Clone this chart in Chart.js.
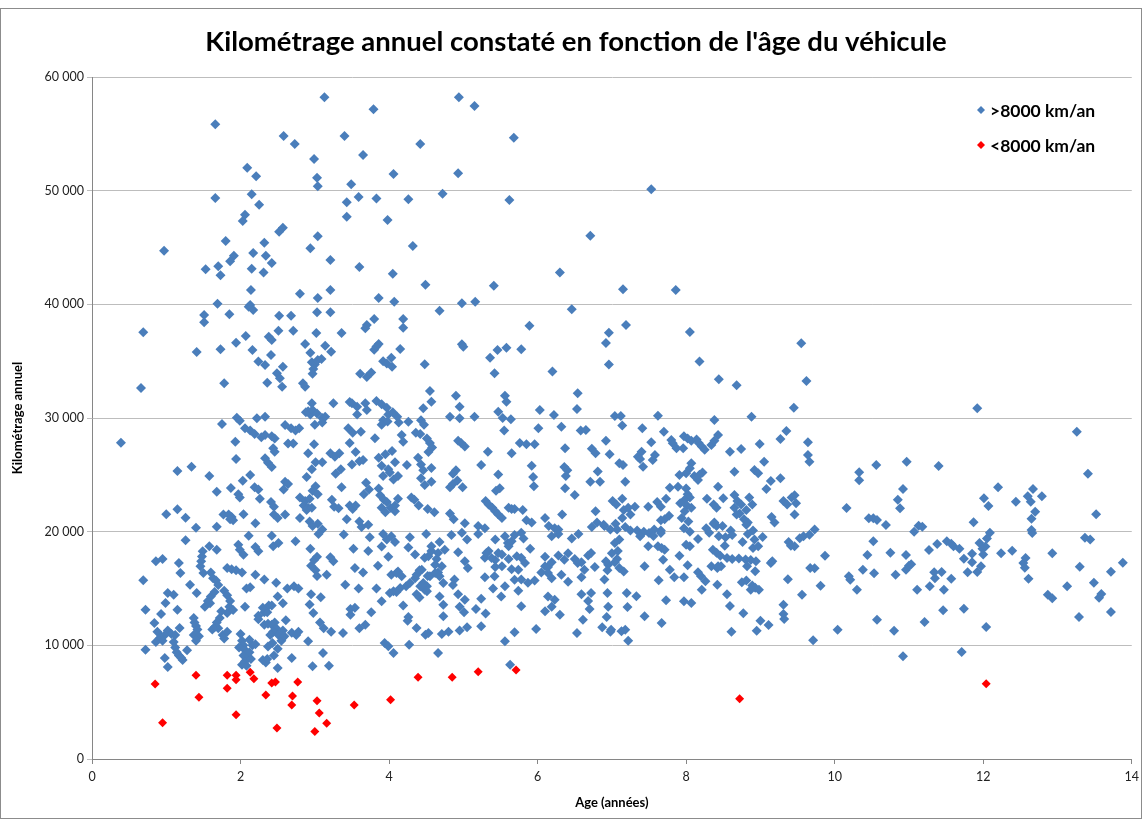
<!DOCTYPE html>
<html>
<head>
<meta charset="utf-8">
<script src="https://cdn.jsdelivr.net/npm/chart.js@4"></script>
<style>
  body { margin: 0; background: #fff; }
  canvas { display: block; }
</style>
</head>
<body>
<canvas id="km__chart" width="1144" height="821"></canvas>
<script>
const chartTitle = "Kilométrage annuel constaté en fonction de l'âge du véhicule"
const seriesNames = ['>8000 km/an', '<8000 km/an']
const xTitle = 'Age (années)'
const yTitle = 'Kilométrage annuel'

// [age, km], grouped by zone
const blueTop = [
  [1.66,55840],[2.58,54810],[2.73,54100],[2.99,52790],[2.09,52020],[2.21,51260],[3.03,51140],[3.04,50390],
  [1.66,49360],[2.15,49680],[2.25,48770],[3.43,48980],[3.43,47710],[2.06,47890],[2.03,47330],[2.57,46740],
  [2.52,46390],[1.80,45570],[2.32,45420],[3.04,45990],[2.17,44520],[2.34,44280],[2.94,44930],[1.91,44280],
  [1.86,43790],[2.42,43640],[3.21,43900],[1.53,43080],[1.70,43350],[1.73,42560],[2.15,43140],[2.31,42790],
  [2.14,41260],[2.80,40940],[3.04,40560],[3.21,41260],[1.69,40060],[3.13,58220],[3.40,54810],[3.49,50560],
  [0.97,44720],[4.94,58220],[5.15,57450],[3.79,57160],[5.68,54660],[4.42,54100],[3.65,53140],[4.06,51470],
  [4.93,51530],[3.59,49440],[3.83,49300],[4.26,49240],[4.72,49730],[5.62,49180],[3.98,47420],[6.71,46040],
  [4.32,45130],[3.60,43290],[4.05,42700],[6.30,42790],[4.49,41730],[5.41,41640],[3.86,40560],[4.07,40230],
  [4.98,40090],[5.16,40230],[7.53,50120],[7.15,41320],[7.86,41260]
]

const blueA = [
  [0.39,27830],[0.66,32640],[0.69,37540],[0.69,15720],[0.86,17390],[0.95,17600],[0.72,13140],[0.72,9620],
  [0.84,11960],[0.93,12760],[0.99,13720],[1.02,14600],[1.10,14460],[1.15,13140],[1.17,17240],[1.19,16360],
  [1.26,19240],[1.32,15340],[1.41,14600],[1.49,18270],[1.48,17820],[1.47,17390],[1.46,16950],[1.50,16360],
  [0.98,8890],[1.02,8090],[1.28,9560],[1.18,11530],[0.88,11200],[1.02,11300],[1.07,11000],[0.93,10800],
  [0.91,10600],[0.98,10900],[0.95,10400],[0.86,10300],[1.12,10900],[1.10,10300],[1.12,9800],[1.14,9400],
  [1.17,9100],[1.22,8700],[1.20,8900],[1.37,12400],[1.38,12000],[1.40,11700],[1.42,11400],[1.37,10900],
  [1.44,10800],[1.40,10400],[1.00,21530],[1.15,21970],[1.26,21230],[1.40,20350],[1.15,25340],[1.34,25720],
  [1.41,35810]
]

const blueB = [
  [2.13,39940],[1.51,39060],[1.51,38420],[1.85,39120],[1.73,36040],[1.94,36630],[2.07,37210],[2.11,39790],
  [2.17,39500],[2.16,35980],[2.38,37150],[2.42,36860],[2.51,37680],[2.52,39000],[2.68,39000],[2.71,37680],
  [2.41,35540],[2.24,34960],[2.33,34660],[2.57,34510],[2.49,33930],[2.53,33490],[2.36,33110],[2.56,32750],
  [2.87,36510],[2.94,35750],[3.03,39300],[3.21,39300],[3.02,37480],[3.14,36360],[3.22,35830],[3.36,37480],
  [1.78,33050],[2.96,34900],[3.00,34700],[3.04,35100],[3.09,35200],[2.98,34300],[2.97,33900],[2.84,33050],
  [2.87,32750],[3.25,31290],[2.96,31290],[2.91,30600],[2.94,30300],[2.88,30500],[2.97,30700],[3.03,30400],
  [3.10,30000],[3.14,30100],[3.47,31400],[3.45,29100],[1.95,30030],[1.99,29760],[2.22,29980],[2.33,30120],
  [1.75,29470],[2.06,29100],[2.13,28900],[2.19,28600],[2.28,28300],[2.33,28500],[2.42,28400],[2.46,28200],
  [2.60,29380],[2.68,29100],[2.74,28900],[2.79,29100],[3.00,29400],[3.10,29600],[1.93,27920],[1.94,26400],
  [2.33,26460],[2.37,26070],[2.42,25680],[2.44,27330],[2.46,27040],[2.64,27750],[2.71,27750],[2.91,26900],
  [2.99,27700],[3.01,26100],[3.10,26100],[2.96,25500],[2.89,24800],[3.21,26900],[3.27,26600],[3.33,26900],
  [3.35,25500],[3.28,25100],[3.47,27800],[1.58,24900],[1.68,23520],[1.87,23840],[2.03,24490],[2.13,24990],
  [2.19,23900],[2.24,23700],[2.26,22900],[2.41,22600],[2.45,22200],[2.60,24400],[2.64,24200],[2.58,23700],
  [2.80,23000],[2.87,22700],[2.85,22300],[2.91,22100],[2.89,21900],[2.96,22100],[3.01,24000],[2.97,23600],
  [2.93,22900],[3.04,23300],[3.23,22800],[3.26,22200],[3.36,23900],[1.97,23300],[1.99,23000],[1.77,21500],
  [1.84,21500],[1.88,21300],[1.90,21000],[1.86,21100],[1.68,20440],[2.04,21530],[2.20,20740],[2.45,21500],
  [2.50,21200],[2.60,21500],[2.80,21200],[2.93,20900],[2.97,20500],[3.04,20700],[3.10,20200],[3.32,22060],
  [3.47,22300],[3.43,21100],
  [1.97,18850],[1.99,18420],[2.04,17980],[2.20,18650],[2.24,18270],[2.44,18710],[2.51,19000],[2.74,19150],
  [2.94,18500],[3.21,17750],[3.25,17390],[2.11,19650],[2.42,19650],[3.39,19740],[3.05,19800],[1.58,18710],
  [1.68,18420],[1.60,16400],[1.63,15900],[1.67,15700],[1.70,15300],[1.82,16800],[1.88,16700],[1.94,16600],
  [2.02,16400],[1.78,14800],[1.82,14400],[1.86,13900],[1.60,14300],[1.56,13900],[1.52,13400],[1.59,13700],
  [1.65,14700],[1.82,12850],[1.72,12400],[1.62,11400],[1.70,11500],[1.65,11600],[1.76,10900],[1.82,11200],
  [1.78,10600],[1.68,12000],[1.74,13000],[1.85,13400],[1.90,13100],[2.00,11000],[2.02,10400],[2.04,10000],
  [1.98,9800],[2.06,9600],[2.08,9300],[2.04,9100],[2.10,8900],[2.06,8600],[2.02,8300],[2.08,8200],
  [2.14,8800],[2.12,9400],[2.16,10000],[2.20,10100],[2.12,10500],[2.06,13400],[2.08,15000],[2.13,15100],
  [2.20,16220],[2.24,12600],[2.32,12900],[2.36,12900],[2.24,12300],[2.32,11800],[2.37,11900],[2.42,11800],
  [2.46,12000],[2.48,11500],[2.44,11200],[2.40,10900],[2.51,10900],[2.57,10700],[2.55,10400],[2.30,13300],
  [2.38,13500],[2.42,13500],[2.32,15800],[2.48,15500],[2.50,14300],[2.57,13700],[2.63,15000],[2.72,15200],
  [2.78,15000],[2.30,8700],[2.34,8500],[2.36,8800],[2.45,9100],[2.50,9700],[2.43,10200],[2.37,9900],
  [2.50,8000],[2.61,12200],[2.57,11300],[2.59,10800],[2.69,8890],[2.69,11100],[2.75,10900],[2.78,11200],
  [2.95,17000],[2.99,17500],[3.03,17800],[3.01,16600],[3.03,16100],[2.95,14500],[2.93,13600],[2.98,12850],
  [3.08,14230],[3.07,12000],[3.12,11500],[2.91,10360],[3.11,9330],[3.19,8210],[2.97,8150],[3.16,16220],
  [3.41,15340],[3.38,11090],[3.22,11200],[3.48,12700],[3.48,13200]
]

const blueC = [
  [4.68,39440],[6.46,39560],[3.70,38180],[3.80,38710],[3.68,37900],[4.19,38710],[4.19,37950],[5.89,38120],
  [4.98,36490],[5.00,36270],[3.80,36000],[3.83,36300],[3.86,36500],[4.15,36070],[3.92,35000],[3.97,34800],
  [4.03,35300],[4.04,34500],[4.48,34720],[5.36,35310],[5.46,35980],[5.58,36190],[5.78,36040],[5.42,33930],
  [6.20,34080],[6.92,36600],[6.96,37500],[6.96,34700],[3.61,33900],[3.70,33600],[3.76,34000],[4.55,32380],
  [4.57,31440],[4.46,30850],[4.90,31960],[4.95,31000],[5.56,31960],[5.58,31440],[5.47,30560],[6.03,30700],
  [6.22,30260],[6.54,32170],[6.53,30790],[3.50,31300],[3.57,31000],[3.68,31300],[3.70,30700],[3.57,30300],
  [3.83,31500],[3.90,31200],[3.97,30900],[3.99,30300],[4.05,30500],[4.11,30100],[4.13,29600],[3.92,29800],
  [3.98,29700],[3.90,29400],[4.26,29680],[4.43,29800],[4.47,29400],[4.36,28700],[4.82,30120],[4.95,29980],
  [5.15,30120],[5.53,30000],[5.64,29900],[5.55,28900],[6.01,29090],[6.32,29240],[6.58,28900],[6.65,28950],
  [3.62,28800],[3.51,28700],[3.81,28220],[4.17,28500],[4.19,27900],[4.42,28600],[4.51,28200],[4.55,27800],
  [4.58,27400],[4.53,27000],[4.93,28000],[4.97,27800],[5.02,27500],[5.33,27040],[5.65,26890],[5.76,27800],
  [5.85,27700],[5.96,27700],[6.37,27330],[6.73,27300],[6.78,26900],[6.92,28000],[6.97,26800],[3.55,27000],
  [3.60,26200],[3.65,26300],[3.50,25900],[3.86,26500],[3.95,26800],[4.04,27100],[3.90,25800],[3.99,25500],
  [4.08,26100],[3.92,24900],[4.01,25200],[4.06,24600],[4.12,24900],[3.69,24300],[3.66,23300],[3.73,23700],
  [3.86,23800],[3.88,23200],[3.93,22800],[3.97,22600],[4.02,22100],[4.08,22300],[4.12,22900],[3.90,22100],
  [3.95,21700],[4.08,21800],[4.24,25870],[4.39,26500],[4.43,25900],[4.46,25400],[4.43,24700],[4.57,25600],
  [4.57,24400],[4.48,24100],[4.30,23000],[4.34,22800],[4.40,22300],[4.52,22000],[4.61,21700],[4.86,25100],
  [4.90,25400],[4.92,24500],[4.86,24200],[4.82,23900],[4.99,23900],[5.24,25870],[5.47,25030],[5.49,23810],
  [5.92,25800],[5.94,24800],[5.95,24000],[6.36,25700],[6.40,25400],[6.38,24900],[6.37,23810],[6.50,23230],
  [6.71,24400],[6.84,24400],[6.81,25300],[6.78,21800],[6.80,20800],[6.89,20600],[5.30,22700],[5.34,22400],
  [5.39,22100],[5.43,21800],[5.47,21500],[5.52,21200],[5.61,22100],[5.65,22000],[5.44,23600],[5.69,22000],
  [5.80,21900],[5.85,21000],[5.92,20800],[6.10,21200],[6.15,20500],[6.33,21500],[4.82,21600],[4.87,21100],
  [5.02,20740],[5.20,20500],[5.29,20300],[6.23,20300],[6.28,20200],[6.73,20400],[6.90,20500],[6.98,20200],
  [3.60,20900],[3.63,20400],[3.72,20600],[3.51,22000],[3.55,22300],
  [3.74,19500],[3.92,19800],[3.97,19300],[4.03,19600],[4.08,19100],[4.28,19500],[4.50,19800],[4.68,19100],
  [4.84,19700],[4.98,19900],[5.05,19300],[5.20,19800],[5.43,19300],[5.56,19600],[5.60,19000],[5.69,19700],
  [5.78,19900],[5.81,19400],[6.19,19600],[6.28,19800],[6.46,19400],[6.55,19800],[3.52,18500],[3.72,18300],
  [3.90,18700],[3.99,17800],[4.26,18600],[4.35,18000],[4.48,17700],[4.57,18300],[4.64,17600],[4.93,18200],
  [5.02,17400],[5.29,17700],[5.34,18300],[5.43,17500],[5.52,18000],[5.61,17600],[5.78,17700],[5.90,18500],
  [6.10,17800],[6.19,17300],[6.28,17900],[6.41,18100],[6.50,17600],[6.59,17300],[6.68,17900],[3.54,16800],
  [3.65,16400],[3.85,17000],[4.03,16200],[4.12,16500],[4.35,15900],[4.41,16600],[4.52,16100],[4.66,16400],
  [4.88,15800],[5.06,16800],[5.29,16000],[5.43,16900],[5.65,16700],[5.78,15800],[5.96,15700],[6.05,16400],
  [6.14,16900],[6.19,15900],[6.32,16200],[6.41,15600],[6.59,16000],[6.77,16900],[6.90,15800],[3.59,15000],
  [3.83,15000],[4.01,14600],[4.10,14700],[4.23,15200],[4.37,14500],[4.41,14200],[4.48,14900],[4.68,14300],
  [4.86,15300],[4.93,14500],[5.02,14000],[5.24,14100],[5.40,15000],[5.51,14300],[5.74,14800],[5.87,15500],
  [6.14,14300],[6.23,14000],[6.59,14500],[6.68,13900],[6.72,14600],[3.54,13300],[3.76,12900],[3.90,13870],
  [4.19,13500],[4.26,12500],[4.73,13580],[4.73,12550],[4.95,13400],[5.01,12900],[5.17,13200],[5.30,12800],
  [5.78,13430],[6.10,13000],[6.19,13400],[6.61,12260],[6.30,12700],[6.70,13200],[6.93,12500],[4.25,12170],
  [4.37,11530],[4.49,10940],[4.53,11090],[4.71,11000],[4.80,11200],[4.95,11300],[5.05,11600],[5.24,11670],
  [5.56,10360],[5.69,11150],[5.98,11440],[6.53,11090],[6.87,11600],[6.98,11200],[3.94,10210],[4.27,10060],
  [3.60,11500],[3.68,11800],[3.99,9920],[4.06,9330],[4.66,9330],[5.63,8300]
]

// extra marks from the densest patches between 4 and 7 years
const blueCDense = [
  [4.10,16370],[4.17,16080],[4.06,14750],[4.15,15050],[4.28,15490],[4.37,16220],[4.44,16660],[4.46,15490],
  [4.51,15200],[4.55,16080],[4.62,16370],[4.68,16080],[4.73,15490],[4.71,16960],[4.62,17100],[4.42,15200],
  [4.51,14750],[4.53,17840],[4.66,18130],[4.75,18420],[4.57,18720],[5.31,18130],[5.38,17690],[5.47,18130],
  [5.52,16960],[5.61,18720],[5.65,19160],[5.72,17840],[5.74,16660],[5.83,17250],[5.42,16080],[5.56,15200],
  [5.69,15780],[6.10,16960],[6.14,16370],[6.36,17540],[6.54,17250],[6.63,16660],[6.72,18130]
]

const blueD = [
  [7.19,38180],[8.05,37570],[9.55,36570],[8.18,34960],[8.44,33400],[8.68,32880],[9.62,33260],[9.45,30910],
  [7.04,30180],[7.12,30180],[7.62,30200],[8.38,29820],[8.88,30120],[7.14,29330],[7.41,29090],[7.70,28800],
  [7.80,28070],[7.82,27770],[7.87,27340],[7.97,28400],[8.02,28200],[8.07,28000],[8.14,28100],[8.17,27800],
  [8.21,27500],[8.25,27200],[7.53,27860],[7.40,27040],[7.35,26600],[7.38,26400],[7.58,26750],[7.55,26310],
  [7.42,25720],[7.10,26010],[7.15,25870],[7.96,27340],[8.34,27630],[8.38,28000],[8.43,28510],[8.59,27040],
  [8.74,27270],[8.99,27710],[9.27,28150],[9.35,28860],[9.64,27860],[9.64,26750],[9.66,26160],[9.05,26160],
  [8.65,25280],[8.92,25430],[8.97,25130],[9.27,24700],[9.14,24460],[9.08,23750],[8.85,23000],[8.89,22400],
  [8.81,21900],[8.72,21600],[8.78,21100],[8.83,20800],[8.69,22700],[8.74,22400],[8.65,22100],[8.68,21500],
  [8.65,23230],[8.43,23960],[8.50,22940],[8.37,22400],[8.41,22100],[8.07,26010],[8.05,25570],[8.00,25130],
  [8.11,24900],[8.18,25000],[8.22,25200],[8.16,24550],[7.91,24990],[7.78,23870],[7.89,23960],[8.00,23800],
  [8.02,23300],[8.05,23000],[7.98,22800],[7.92,22500],[8.01,22300],[8.07,22100],[7.98,21800],[7.94,21200],
  [8.03,20900],[7.61,22600],[7.66,22200],[7.73,22900],[7.77,21400],[7.71,21100],[8.37,20700],[8.41,20500],
  [8.28,22900],[7.18,24400],[7.01,22700],[7.06,22400],[7.14,22900],[7.16,21900],[7.22,22100],[7.31,22200],
  [7.25,21500],[7.49,22200],[7.14,21200],[7.05,20700],[7.07,20200],[7.18,20400],[7.25,20100],[7.34,20100],
  [7.43,20000],[7.66,21000],[9.31,22700],[9.36,22400],[9.42,23000],[9.46,23200],[9.48,22500],[9.46,21500],
  [9.73,20200],[10.16,22080],[10.33,25220],[10.33,24520],[9.15,21300],[9.19,20800],[8.81,20600],[8.90,20100],
  [8.60,20100],[8.49,20500],[8.38,20800],[8.27,20300],[8.31,19900],[7.97,20300],[8.05,20000],[7.66,20100],
  [7.57,20200],[10.46,21180],
  [9.87,17890],[10.44,17950],[10.38,16660],[10.19,16080],[10.21,15780],[10.30,14900],[9.81,15250],[9.56,14460],
  [9.67,16800],[9.73,16780],[9.37,15810],[9.31,13580],[9.31,12760],[9.32,12320],[9.11,11790],[9.00,12170],
  [8.95,11290],[8.61,11200],[10.04,11380],[9.71,10440],[8.59,13460],[8.77,12820],[8.93,16510],[8.75,15550],
  [8.81,15700],[8.89,15260],[8.93,15070],[8.98,14900],[8.87,14900],[8.55,14490],[8.42,15340],[8.21,14900],
  [8.26,15630],[8.20,16080],[8.16,16430],[7.97,13870],[8.07,13720],[7.73,13960],[7.67,11960],[7.44,12550],
  [7.20,14600],[7.33,14310],[7.21,13370],[7.13,11230],[7.18,11380],[7.22,10410],[6.99,11380],[7.63,15720],
  [7.84,15990],[7.97,15990],[8.42,16800],[8.47,16950],[8.55,17680],[8.62,17600],[8.71,17650],[8.80,17550],
  [8.87,17500],[8.94,17400],[8.82,16950],[9.14,17240],[9.16,17400],[9.38,19090],[9.41,18770],[9.46,18710],
  [9.53,19410],[9.58,19590],[9.66,19730],[9.03,19530],[8.92,19300],[8.90,18560],[8.97,18710],[8.52,18770],
  [8.36,18410],[8.41,18150],[8.46,17890],[8.34,16950],[8.43,16950],[8.16,19360],[8.05,18710],[8.00,18850],
  [7.91,17890],[8.02,17040],[7.78,16660],[7.69,17530],[7.62,18710],[7.67,18560],[7.71,18410],[7.49,18710],
  [7.38,19590],[7.50,19880],[7.56,19620],[7.66,19880],[7.10,19300],[7.04,19000],[7.08,18300],[7.00,18100],
  [7.07,17600],[7.04,17300],[7.10,16800],[7.16,16500],[6.95,17100],[6.92,17400],[6.94,16600],[7.44,16950],
  [6.94,14600],[6.95,13400],[8.83,19800],[8.76,19100],[8.62,19700],[8.53,19500],[8.44,19600]
]

const blueE = [
  [11.92,30850],[13.26,28800],[13.41,25100],[13.52,21530],[10.56,25870],[10.97,26160],[11.40,25780],[10.92,23750],
  [10.85,22810],[10.88,22060],[12.20,23900],[12.01,22930],[12.07,22260],[12.44,22640],[12.67,23750],[12.60,23110],
  [12.64,22640],[12.79,23110],[12.70,21760],[12.65,21140],[11.87,20820],[10.52,21180],[10.57,21030],[10.69,20590],
  [11.13,20530],[11.18,20440],[11.07,20000],[12.65,20150],[12.09,19910],[10.52,19150],[10.75,18150],[10.96,17950],
  [11.27,18390],[11.38,18920],[11.51,19150],[11.57,18940],[11.60,18710],[11.68,18500],[11.74,17620],[11.85,18060],
  [11.85,17300],[11.95,19000],[11.99,18500],[12.05,19400],[12.03,18700],[12.00,18000],[12.24,18100],[12.39,18330],
  [12.57,17680],[12.54,17240],[12.56,16830],[12.61,15860],[12.93,18100],[12.66,19880],[13.37,19470],[13.44,19300],
  [13.30,16920],[13.72,16480],[13.88,17270],[13.49,15510],[13.13,15190],[12.87,14460],[12.93,14140],[13.59,14520],
  [13.56,14190],[13.29,12490],[13.72,12930],[10.53,16340],[10.82,16220],[10.96,16660],[11.00,17010],[11.03,17130],
  [11.34,16430],[11.44,16450],[11.35,15900],[11.57,15860],[11.28,15190],[11.11,14900],[11.47,14900],[11.79,16430],
  [11.92,16450],[11.97,16950],[11.46,13080],[11.74,13220],[10.57,12260],[11.21,12050],[10.80,11290],[12.04,11610],
  [10.92,9040],[11.71,9410]
]

const redLow = [
  [0.85,6600],[0.95,3200],[1.40,7360],[1.44,5430],[1.82,7360],[1.82,6220],[1.94,7360],[1.94,6980],
  [1.94,3900],[2.13,7630],[2.18,7060],[2.34,5630],[2.42,6690],[2.47,6780],[2.49,2730],[2.70,5540],
  [2.69,4750],[2.77,6770],[3.03,5130],[3.06,4050],[3.16,3140],[3.00,2430],[3.53,4750],[4.02,5220],
  [4.39,7190],[4.85,7190],[5.20,7680],[5.71,7830],[8.72,5310],[12.04,6630]
]

const toPoints = (rows) => rows.map(([x, y]) => ({x, y}))
const blueColor = '#4a7ebb'
const redColor = '#ff0000'
const fontName = 'Lato, "Open Sans", sans-serif'

const spaced = (v) => String(v).replace(/\B(?=(\d{3})+(?!\d))/g, ' ')

const frameAndText = {
  id: 'frameAndText',
  beforeDraw(chart) {
    const {ctx} = chart
    ctx.save()
    ctx.fillStyle = '#fff'
    ctx.fillRect(0, 0, chart.width, chart.height)
    ctx.strokeStyle = '#8c8c8c'
    ctx.lineWidth = 1
    ctx.strokeRect(0.5, 8.5, 1141, 810)
    ctx.restore()
  },
  afterDraw(chart) {
    const {ctx} = chart
    ctx.save()
    ctx.fillStyle = '#000'
    ctx.font = 'bold 27.5px ' + fontName
    ctx.textAlign = 'center'
    ctx.textBaseline = 'middle'
    ctx.fillText(chartTitle, 576, 42)

    // legend in the top right corner of the plot
    const items = [[seriesNames[0], blueColor, 110], [seriesNames[1], redColor, 145]]
    ctx.font = 'bold 17.5px ' + fontName
    ctx.textAlign = 'left'
    items.forEach(([label, color, y]) => {
      ctx.fillStyle = color
      ctx.beginPath()
      ctx.moveTo(981, y - 4)
      ctx.lineTo(985, y)
      ctx.lineTo(981, y + 4)
      ctx.lineTo(977, y)
      ctx.closePath()
      ctx.fill()
      ctx.fillStyle = '#000'
      ctx.fillText(label, 990, y + 1)
    })
    ctx.restore()
  }
}

const blueAll = [...blueTop, ...blueA, ...blueB, ...blueC, ...blueCDense, ...blueD, ...blueE]

new Chart(document.getElementById('km__chart').getContext('2d'), {
  type: 'scatter',
  data: {
    datasets: [
      {label: seriesNames[1], data: toPoints(redLow), backgroundColor: redColor, borderWidth: 0,
        pointStyle: 'rectRot', pointRadius: 4.5},
      {label: seriesNames[0], data: toPoints(blueAll), backgroundColor: blueColor, borderWidth: 0,
        pointStyle: 'rectRot', pointRadius: 5}
    ]
  },
  options: {
    responsive: false,
    animation: false,
    layout: {padding: {left: 0, right: 11, top: 77, bottom: 0}},
    plugins: {legend: {display: false}, title: {display: false}, tooltip: {enabled: false}},
    scales: {
      x: {
        type: 'linear', min: 0, max: 14,
        ticks: {stepSize: 2, color: '#222', font: {family: fontName, size: 12.5}, padding: 5},
        grid: {drawOnChartArea: false, drawTicks: true, tickLength: 5, color: '#868686'},
        border: {color: '#868686'},
        title: {display: true, text: xTitle, color: '#000', font: {family: fontName, size: 13, weight: 'bold'},
          padding: {top: 0, bottom: 10}},
        afterFit: (s) => { s.height = 62 }
      },
      y: {
        min: 0, max: 60000,
        ticks: {stepSize: 10000, color: '#222', font: {family: fontName, size: 12.5}, padding: 3,
          callback: (v) => spaced(v)},
        grid: {color: '#bdbdbd', tickLength: 5},
        border: {color: '#868686'},
        title: {display: true, text: yTitle, color: '#000', font: {family: fontName, size: 13, weight: 'bold'},
          padding: {top: 10, bottom: 0}},
        afterFit: (s) => { s.width = 92 }
      }
    }
  },
  plugins: [frameAndText]
})
</script>
</body>
</html>
